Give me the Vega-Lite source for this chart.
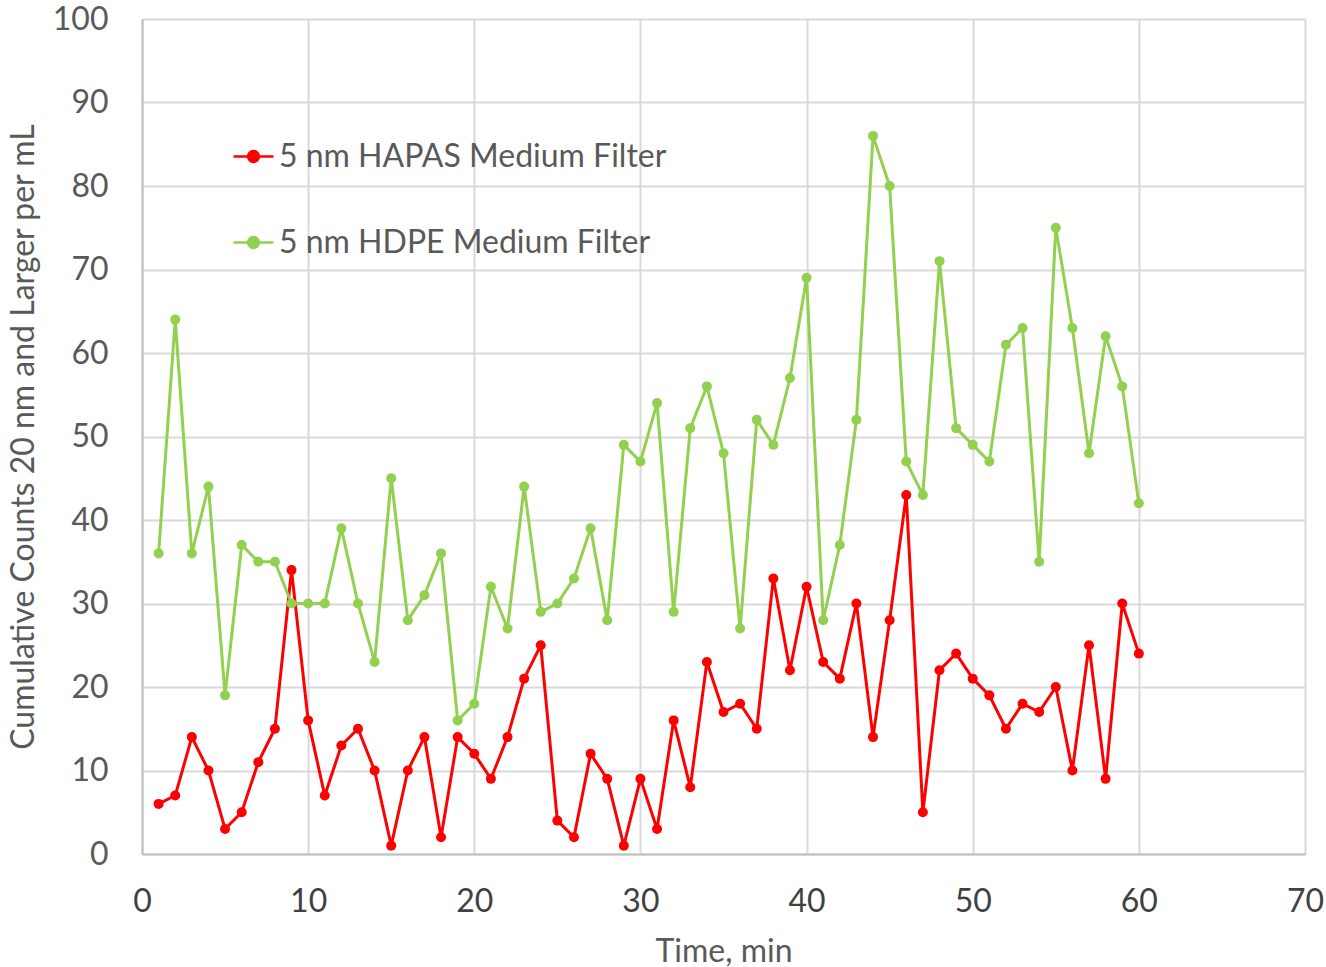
{
  "$schema": "https://vega.github.io/schema/vega-lite/v6.json",
  "autosize": {"type": "none"},
  "width": 1163,
  "height": 835,
  "padding": {"left": 142, "top": 19, "right": 21, "bottom": 113},
  "background": "white",
  "config": {
    "font": "Lato",
    "view": {"stroke": null},
    "axis": {
      "labelFont": "Lato", "titleFont": "Lato",
      "labelFontSize": 32, "titleFontSize": 32,
      "labelColor": "#595959", "titleColor": "#595959",
      "titleFontWeight": "normal",
      "gridColor": "#D9D9D9", "gridWidth": 2,
      "domainColor": "#BFBFBF", "domainWidth": 2,
      "ticks": false, "labelFlush": false, "labelOverlap": false
    }
  },
  "data": {"values": [
    {"t":1,"s":"5 nm HAPAS Medium Filter","v":6},{"t":2,"s":"5 nm HAPAS Medium Filter","v":7},{"t":3,"s":"5 nm HAPAS Medium Filter","v":14},{"t":4,"s":"5 nm HAPAS Medium Filter","v":10},{"t":5,"s":"5 nm HAPAS Medium Filter","v":3},{"t":6,"s":"5 nm HAPAS Medium Filter","v":5},{"t":7,"s":"5 nm HAPAS Medium Filter","v":11},{"t":8,"s":"5 nm HAPAS Medium Filter","v":15},{"t":9,"s":"5 nm HAPAS Medium Filter","v":34},{"t":10,"s":"5 nm HAPAS Medium Filter","v":16},
    {"t":11,"s":"5 nm HAPAS Medium Filter","v":7},{"t":12,"s":"5 nm HAPAS Medium Filter","v":13},{"t":13,"s":"5 nm HAPAS Medium Filter","v":15},{"t":14,"s":"5 nm HAPAS Medium Filter","v":10},{"t":15,"s":"5 nm HAPAS Medium Filter","v":1},{"t":16,"s":"5 nm HAPAS Medium Filter","v":10},{"t":17,"s":"5 nm HAPAS Medium Filter","v":14},{"t":18,"s":"5 nm HAPAS Medium Filter","v":2},{"t":19,"s":"5 nm HAPAS Medium Filter","v":14},{"t":20,"s":"5 nm HAPAS Medium Filter","v":12},
    {"t":21,"s":"5 nm HAPAS Medium Filter","v":9},{"t":22,"s":"5 nm HAPAS Medium Filter","v":14},{"t":23,"s":"5 nm HAPAS Medium Filter","v":21},{"t":24,"s":"5 nm HAPAS Medium Filter","v":25},{"t":25,"s":"5 nm HAPAS Medium Filter","v":4},{"t":26,"s":"5 nm HAPAS Medium Filter","v":2},{"t":27,"s":"5 nm HAPAS Medium Filter","v":12},{"t":28,"s":"5 nm HAPAS Medium Filter","v":9},{"t":29,"s":"5 nm HAPAS Medium Filter","v":1},{"t":30,"s":"5 nm HAPAS Medium Filter","v":9},
    {"t":31,"s":"5 nm HAPAS Medium Filter","v":3},{"t":32,"s":"5 nm HAPAS Medium Filter","v":16},{"t":33,"s":"5 nm HAPAS Medium Filter","v":8},{"t":34,"s":"5 nm HAPAS Medium Filter","v":23},{"t":35,"s":"5 nm HAPAS Medium Filter","v":17},{"t":36,"s":"5 nm HAPAS Medium Filter","v":18},{"t":37,"s":"5 nm HAPAS Medium Filter","v":15},{"t":38,"s":"5 nm HAPAS Medium Filter","v":33},{"t":39,"s":"5 nm HAPAS Medium Filter","v":22},{"t":40,"s":"5 nm HAPAS Medium Filter","v":32},
    {"t":41,"s":"5 nm HAPAS Medium Filter","v":23},{"t":42,"s":"5 nm HAPAS Medium Filter","v":21},{"t":43,"s":"5 nm HAPAS Medium Filter","v":30},{"t":44,"s":"5 nm HAPAS Medium Filter","v":14},{"t":45,"s":"5 nm HAPAS Medium Filter","v":28},{"t":46,"s":"5 nm HAPAS Medium Filter","v":43},{"t":47,"s":"5 nm HAPAS Medium Filter","v":5},{"t":48,"s":"5 nm HAPAS Medium Filter","v":22},{"t":49,"s":"5 nm HAPAS Medium Filter","v":24},{"t":50,"s":"5 nm HAPAS Medium Filter","v":21},
    {"t":51,"s":"5 nm HAPAS Medium Filter","v":19},{"t":52,"s":"5 nm HAPAS Medium Filter","v":15},{"t":53,"s":"5 nm HAPAS Medium Filter","v":18},{"t":54,"s":"5 nm HAPAS Medium Filter","v":17},{"t":55,"s":"5 nm HAPAS Medium Filter","v":20},{"t":56,"s":"5 nm HAPAS Medium Filter","v":10},{"t":57,"s":"5 nm HAPAS Medium Filter","v":25},{"t":58,"s":"5 nm HAPAS Medium Filter","v":9},{"t":59,"s":"5 nm HAPAS Medium Filter","v":30},{"t":60,"s":"5 nm HAPAS Medium Filter","v":24},
    {"t":1,"s":"5 nm HDPE Medium Filter","v":36},{"t":2,"s":"5 nm HDPE Medium Filter","v":64},{"t":3,"s":"5 nm HDPE Medium Filter","v":36},{"t":4,"s":"5 nm HDPE Medium Filter","v":44},{"t":5,"s":"5 nm HDPE Medium Filter","v":19},{"t":6,"s":"5 nm HDPE Medium Filter","v":37},{"t":7,"s":"5 nm HDPE Medium Filter","v":35},{"t":8,"s":"5 nm HDPE Medium Filter","v":35},{"t":9,"s":"5 nm HDPE Medium Filter","v":30},{"t":10,"s":"5 nm HDPE Medium Filter","v":30},
    {"t":11,"s":"5 nm HDPE Medium Filter","v":30},{"t":12,"s":"5 nm HDPE Medium Filter","v":39},{"t":13,"s":"5 nm HDPE Medium Filter","v":30},{"t":14,"s":"5 nm HDPE Medium Filter","v":23},{"t":15,"s":"5 nm HDPE Medium Filter","v":45},{"t":16,"s":"5 nm HDPE Medium Filter","v":28},{"t":17,"s":"5 nm HDPE Medium Filter","v":31},{"t":18,"s":"5 nm HDPE Medium Filter","v":36},{"t":19,"s":"5 nm HDPE Medium Filter","v":16},{"t":20,"s":"5 nm HDPE Medium Filter","v":18},
    {"t":21,"s":"5 nm HDPE Medium Filter","v":32},{"t":22,"s":"5 nm HDPE Medium Filter","v":27},{"t":23,"s":"5 nm HDPE Medium Filter","v":44},{"t":24,"s":"5 nm HDPE Medium Filter","v":29},{"t":25,"s":"5 nm HDPE Medium Filter","v":30},{"t":26,"s":"5 nm HDPE Medium Filter","v":33},{"t":27,"s":"5 nm HDPE Medium Filter","v":39},{"t":28,"s":"5 nm HDPE Medium Filter","v":28},{"t":29,"s":"5 nm HDPE Medium Filter","v":49},{"t":30,"s":"5 nm HDPE Medium Filter","v":47},
    {"t":31,"s":"5 nm HDPE Medium Filter","v":54},{"t":32,"s":"5 nm HDPE Medium Filter","v":29},{"t":33,"s":"5 nm HDPE Medium Filter","v":51},{"t":34,"s":"5 nm HDPE Medium Filter","v":56},{"t":35,"s":"5 nm HDPE Medium Filter","v":48},{"t":36,"s":"5 nm HDPE Medium Filter","v":27},{"t":37,"s":"5 nm HDPE Medium Filter","v":52},{"t":38,"s":"5 nm HDPE Medium Filter","v":49},{"t":39,"s":"5 nm HDPE Medium Filter","v":57},{"t":40,"s":"5 nm HDPE Medium Filter","v":69},
    {"t":41,"s":"5 nm HDPE Medium Filter","v":28},{"t":42,"s":"5 nm HDPE Medium Filter","v":37},{"t":43,"s":"5 nm HDPE Medium Filter","v":52},{"t":44,"s":"5 nm HDPE Medium Filter","v":86},{"t":45,"s":"5 nm HDPE Medium Filter","v":80},{"t":46,"s":"5 nm HDPE Medium Filter","v":47},{"t":47,"s":"5 nm HDPE Medium Filter","v":43},{"t":48,"s":"5 nm HDPE Medium Filter","v":71},{"t":49,"s":"5 nm HDPE Medium Filter","v":51},{"t":50,"s":"5 nm HDPE Medium Filter","v":49},
    {"t":51,"s":"5 nm HDPE Medium Filter","v":47},{"t":52,"s":"5 nm HDPE Medium Filter","v":61},{"t":53,"s":"5 nm HDPE Medium Filter","v":63},{"t":54,"s":"5 nm HDPE Medium Filter","v":35},{"t":55,"s":"5 nm HDPE Medium Filter","v":75},{"t":56,"s":"5 nm HDPE Medium Filter","v":63},{"t":57,"s":"5 nm HDPE Medium Filter","v":48},{"t":58,"s":"5 nm HDPE Medium Filter","v":62},{"t":59,"s":"5 nm HDPE Medium Filter","v":56},{"t":60,"s":"5 nm HDPE Medium Filter","v":42}
  ]},
  "mark": {"type": "line", "strokeWidth": 3, "point": {"filled": true, "size": 100}},
  "encoding": {
    "x": {"field": "t", "type": "quantitative", "title": "Time, min",
          "scale": {"domain": [0, 70], "nice": false},
          "axis": {"values": [0,10,20,30,40,50,60,70], "labelPadding": 32, "titlePadding": 19, "grid": true, "labelColor": "#404040"}},
    "y": {"field": "v", "type": "quantitative", "title": "Cumulative Counts 20 nm and Larger per mL",
          "scale": {"domain": [0, 100], "nice": false},
          "axis": {"values": [0,10,20,30,40,50,60,70,80,90,100], "labelPadding": 34, "titlePadding": 12, "grid": true}},
    "color": {"field": "s", "type": "nominal",
              "scale": {"domain": ["5 nm HAPAS Medium Filter", "5 nm HDPE Medium Filter"], "range": ["#FF0000", "#92D050"]},
              "legend": {"title": null, "orient": "none", "legendX": 90, "legendY": 116,
                         "labelFont": "Lato", "labelFontSize": 32, "labelColor": "#595959", "labelLimit": 0,
                         "symbolType": "M-1,0H1M-0.27,0A0.27,0.27 0 1,1 0.27,0A0.27,0.27 0 1,1 -0.27,0Z",
                         "symbolSize": 1600, "symbolStrokeWidth": 2.5, "labelOffset": 4, "rowPadding": 48,
                         "padding": 0,
                         "encode": {"symbols": {"update": {"fill": {"scale": "color", "field": "value"}}}}}}
  }
}
